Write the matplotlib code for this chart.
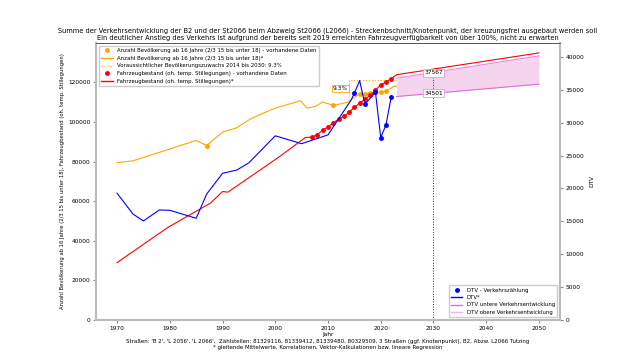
import matplotlib
matplotlib.use("Agg")
import matplotlib.pyplot as plt

# Bevoelkerung ab 16 Jahre (linke Achse)
pop_years = [1970, 1973, 1985, 1987, 1990, 1992.7, 1995, 1997, 2000, 2004.8, 2006, 2007.6, 2009,
             2011, 2013.6, 2014.8, 2016, 2017, 2018, 2019, 2020, 2021, 2022.5]
pop_vals = [79500, 80400, 90700, 88150, 94900, 97100, 101100, 103700, 107000, 110750, 107000, 107900,
            110100, 108400, 109900, 112100, 114100, 114300, 114500, 115100, 115100, 115450, 118000]
pop_data_years = [1987, 2011, 2016, 2017, 2018, 2019, 2020, 2021]
pop_data_vals = [88150, 108400, 114100, 114300, 114500, 115100, 115100, 115450]
pop_proj_years = [2022.5, 2050]
pop_proj_vals = [118000, 129000]

# Bevoelkerungszuwachs 2014 bis 2030
growth_x = [2014, 2014, 2028]
growth_y = [112900, 121200, 121200]

# Fahrzeugbestand (linke Achse)
veh_years = [1970, 1972.8, 1979.7, 1985.1, 1987.7, 1990, 1991, 1997.2, 2001, 2005.7, 2007]
veh_vals = [29000, 34200, 46900, 55100, 59000, 64900, 64600, 75900, 82900, 92200, 92400]
veh_data_years = [2007, 2008, 2009, 2010, 2011, 2012, 2013, 2014, 2015, 2016, 2017, 2018, 2019, 2020, 2021, 2022]
veh_data_vals = [92400, 93700, 95900, 97600, 99500, 101500, 102800, 105000, 107400, 109600, 111500, 113500,
                 116000, 118800, 120300, 121900]
veh_proj_years = [2022, 2023, 2050]
veh_proj_vals = [121900, 123900, 134900]

# DTV (rechte Achse)
dtv_years = [1970, 1973, 1975, 1978, 1980, 1985, 1987, 1990, 1992.7, 1995, 2000, 2005, 2010, 2014.4,
             2015, 2016, 2017, 2018, 2019, 2020, 2021, 2022]
dtv_vals = [19270, 16120, 15060, 16730, 16680, 15470, 19160, 22300, 22800, 23900, 28000, 26800, 28140,
            33460, 34480, 36400, 32800, 33700, 34630, 27730, 29660, 33970]
dtv_data_years = [2015, 2017, 2019, 2020, 2021, 2022]
dtv_data_vals = [34480, 32800, 34630, 27730, 29660, 33970]

band_years = [2023, 2050]
dtv_low = [33970, 35850]
dtv_high = [36760, 40150]
val_2030_low = 34501
val_2030_high = 37567

fig = plt.figure(figsize=(6.4, 3.6), dpi=100)
ax = fig.add_axes([0.15, 0.111, 0.725, 0.77])
ax2 = ax.twinx()

ax.plot(pop_years, pop_vals, color='orange', lw=0.8)
ax.plot(pop_proj_years, pop_proj_vals, color='orange', lw=0.8)
ax.plot(pop_data_years, pop_data_vals, 'o', color='orange', ms=2.5)
ax.plot(growth_x, growth_y, ':', color='orange', lw=0.8)
ax.plot(veh_years, veh_vals, color='red', lw=0.8)
ax.plot(veh_data_years, veh_data_vals, color='red', lw=0.8)
ax.plot(veh_data_years, veh_data_vals, 'o', color='red', ms=2.5)
ax.plot(veh_proj_years, veh_proj_vals, color='red', lw=0.8)

ax.annotate('9.3%', xy=(2012.4, 116800), fontsize=4.2, ha='center', va='center',
            bbox=dict(boxstyle='square,pad=0.2', fc='white', ec='orange', lw=0.6))

legend_handles = [
    plt.Line2D([], [], marker='o', ls='', color='orange', ms=2.5),
    plt.Line2D([], [], color='orange', lw=1),
    plt.Line2D([], [], color='orange', ls=':', lw=0.8),
    plt.Line2D([], [], marker='o', ls='', color='red', ms=2.5),
    plt.Line2D([], [], color='red', lw=1),
]
legend_labels = [
    'Anzahl Bevölkerung ab 16 Jahre (2/3 15 bis unter 18) - vorhandene Daten',
    'Anzahl Bevölkerung ab 16 Jahre (2/3 15 bis unter 18)*',
    'Voraussichtlicher Bevölkerungszuwachs 2014 bis 2030: 9.3%',
    'Fahrzeugbestand (oh. temp. Stillegungen) - vorhandene Daten',
    'Fahrzeugbestand (oh. temp. Stillegungen)*',
]
ax.legend(legend_handles, legend_labels, loc='upper left', fontsize=3.9, framealpha=1,
          borderpad=0.45, labelspacing=0.5, handlelength=2.2, fancybox=False, edgecolor='#cccccc')

ax2.fill_between(band_years, dtv_low, dtv_high, color='#f5d5ee', lw=0)
ax2.plot(band_years, dtv_low, color='orchid', lw=0.8)
ax2.plot(band_years, dtv_high, color='violet', lw=0.8)
ax2.plot(dtv_years, dtv_vals, color='blue', lw=0.8)
ax2.plot(dtv_data_years, dtv_data_vals, 'o', color='blue', ms=2.5)
ax2.plot([2030, 2030], [0, val_2030_high], ':', color='#333333', lw=0.7)
for v in (val_2030_high, val_2030_low):
    ax2.annotate(str(v), xy=(2030, v), fontsize=4.2, ha='center', va='center',
                 bbox=dict(boxstyle='square,pad=0.2', fc='white', ec='plum', lw=0.6))

handles2 = [
    plt.Line2D([], [], marker='o', ls='', color='blue', ms=2.5),
    plt.Line2D([], [], color='blue', lw=1),
    plt.Line2D([], [], color='orchid', lw=1),
    plt.Line2D([], [], color='violet', lw=1, alpha=0.6),
]
labels2 = ['DTV - Verkehrszählung', 'DTV*', 'DTV untere Verkehrsentwicklung', 'DTV obere Verkehrsentwicklung']
ax2.legend(handles2, labels2, loc='lower right', fontsize=3.9, framealpha=1, borderpad=0.45,
           labelspacing=0.45, fancybox=False, edgecolor='#cccccc')

ax.set_xlim(1966, 2054)
ax.set_ylim(0, 140000)
ax2.set_ylim(0, 42130)
ax.set_xticks(range(1970, 2051, 10))
ax.set_yticks(range(0, 120001, 20000))
ax2.set_yticks(range(0, 40001, 5000))
ax.tick_params(labelsize=4.2, length=2, color='#888888', pad=2)
ax2.tick_params(labelsize=4.2, length=2, color='#888888', pad=2)
ax.set_xlabel('Jahr', fontsize=4.2, labelpad=1)
ax.set_ylabel('Anzahl Bevölkerung ab 16 Jahre (2/3 15 bis unter 18), Fahrzeugbestand (oh. temp. Stillegungen)',
              fontsize=3.8, labelpad=2)
ax2.set_ylabel('DTV', fontsize=4.2, labelpad=4)

for a in (ax, ax2):
    for side in ('left', 'right', 'bottom'):
        a.spines[side].set_color('#bbbbbb')
        a.spines[side].set_linewidth(1.5)
    a.spines['top'].set_color('#555555')
    a.spines['top'].set_linewidth(0.6)

fig.text(0.5125, 0.905, 'Summe der Verkehrsentwicklung der B2 und der St2066 beim Abzweig St2066 (L2066) - '
         'Streckenbschnitt/Knotenpunkt, der kreuzungsfrei ausgebaut werden soll\n'
         'Ein deutlicher Anstieg des Verkehrs ist aufgrund der bereits seit 2019 erreichten '
         'Fahrzeugverfügbarkeit von über 100%, nicht zu erwarten',
         ha='center', va='center', fontsize=4.8, linespacing=1.2)
fig.text(0.512, 0.043, "Straßen: 'B 2', 'L 2056', 'L 2066',  Zählstellen: 81329116, 81339412, 81339480, 80329509, "
         "3 Straßen (ggf. Knotenpunkt), B2, Abzw. L2066 Tutzing\n"
         "* gleitende Mittelwerte, Korrelationen, Vektor-Kalkulationen bzw. lineare Regression",
         ha='center', va='center', fontsize=4.0, linespacing=1.2)

fig.savefig('out.png', dpi=100)
